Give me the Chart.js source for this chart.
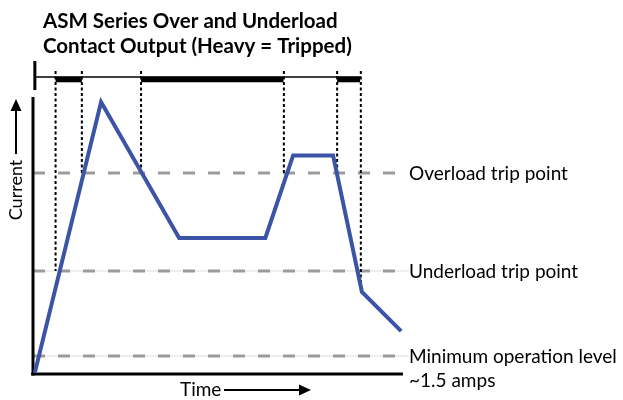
<!DOCTYPE html>
<html>
<head>
<meta charset="utf-8">
<script src="https://cdn.jsdelivr.net/npm/chart.js@4/dist/chart.umd.min.js"></script>
<style>
  html, body { margin: 0; padding: 0; background: #fff; }
</style>
</head>
<body>
<canvas id="chart" width="623" height="400"></canvas>
<script>
// current trace (time and current in arbitrary units, 0-100)
const timeValues = [0.5, 18.4, 39.5, 62.8, 70.3, 81.1, 88.9, 99.5];
const currentValues = [0.5, 98.2, 49.1, 49.1, 78.9, 78.9, 29.6, 15.5];

// trip levels and their labels
const levelNames = ['Overload trip point', 'Underload trip point', 'Minimum operation level'];
const levelValues = [72.6, 37.2, 6.5];
const levelNote = '~1.5 amps';

// contact output strip above the plot (heavy = tripped)
const contactLevel = 107.2;
const contactTick = [102.5, 113.0];
const contactEnd = 88.6;
const trippedLevel = 106.3;
const trippedStart = [6.1, 29.2, 82.2];
const trippedEnd = [13.2, 67.7, 88.4];

// dotted markers from the strip down to the crossings
const markerTimes = [6.1, 13.2, 29.2, 67.8, 82.2, 88.6];
const markerBottoms = [37.2, 72.6, 72.6, 72.6, 72.6, 30.3];
const markerTop = 109.4;

const blue = '#3b54a5';
const grey = '#9b9b9b';

function seg(x1, y1, x2, y2, style) {
    return Object.assign({
        data: [{x: x1, y: y1}, {x: x2, y: y2}],
        pointRadius: 0,
        fill: false,
        clip: false,
        borderCapStyle: 'butt'
    }, style);
}

const datasets = [];

// thin guide lines under the lower two levels
levelValues.slice(1).forEach(v => {
    datasets.push(seg(0, v, 101.6, v, {borderColor: '#dcdcdc', borderWidth: 1, order: 9}));
});
// dashed trip levels
levelValues.forEach(v => {
    datasets.push(seg(0, v, 100, v, {borderColor: grey, borderWidth: 3, borderDash: [12, 13], order: 8}));
});
// dotted markers
markerTimes.forEach((t, i) => {
    datasets.push(seg(t, markerTop, t, markerBottoms[i], {borderColor: '#000', borderWidth: 2, borderDash: [3, 2.5], order: 7}));
});
// contact strip
datasets.push(seg(0.5, contactLevel, contactEnd, contactLevel, {borderColor: '#000', borderWidth: 1.5, order: 6}));
datasets.push(seg(0.5, contactTick[0], 0.5, contactTick[1], {borderColor: '#000', borderWidth: 3, order: 6}));
trippedStart.forEach((s, i) => {
    datasets.push(seg(s, trippedLevel, trippedEnd[i], trippedLevel, {borderColor: '#000', borderWidth: 5.5, order: 6}));
});
// axes
datasets.push(seg(0, -0.5, 0, 100, {borderColor: '#000', borderWidth: 3, order: 5}));
datasets.push(seg(-0.5, 0, 100, 0, {borderColor: '#000', borderWidth: 3, order: 5}));
// current trace
datasets.push({
    data: timeValues.map((t, i) => ({x: t, y: currentValues[i]})),
    borderColor: blue,
    borderWidth: 4,
    pointRadius: 0,
    fill: false,
    clip: false,
    tension: 0,
    borderJoinStyle: 'miter',
    order: 1
});

const font = 'Lato, "Open Sans", sans-serif';

const textPlugin = {
    id: 'texts',
    afterDraw(chart) {
        const ctx = chart.ctx;
        const y = chart.scales.y;
        ctx.save();
        ctx.fillStyle = '#000';
        ctx.strokeStyle = '#000';

        // title
        ctx.font = 'bold 20.5px ' + font;
        ctx.textAlign = 'left';
        ctx.textBaseline = 'alphabetic';
        ctx.fillText('ASM Series Over and Underload', 43, 27.5);
        ctx.fillText('Contact Output (Heavy = Tripped)', 43, 53);

        // level labels
        ctx.font = '19px ' + font;
        ctx.textBaseline = 'middle';
        levelNames.forEach((name, i) => {
            ctx.fillText(name, 409, y.getPixelForValue(levelValues[i]) + 1);
        });
        ctx.fillText(levelNote, 409, y.getPixelForValue(levelValues[2]) + 25);

        // axis names with arrows
        ctx.fillText('Time', 180, 390);
        ctx.lineWidth = 2;
        ctx.beginPath();
        ctx.moveTo(224, 390);
        ctx.lineTo(302, 390);
        ctx.stroke();
        ctx.beginPath();
        ctx.moveTo(311, 390);
        ctx.lineTo(299, 384.5);
        ctx.lineTo(299, 395.5);
        ctx.closePath();
        ctx.fill();

        ctx.save();
        ctx.translate(16, 190);
        ctx.rotate(-Math.PI / 2);
        ctx.textAlign = 'center';
        ctx.font = '18px ' + font;
        ctx.fillText('Current', 0, 0);
        ctx.restore();
        ctx.beginPath();
        ctx.moveTo(16, 154);
        ctx.lineTo(16, 107);
        ctx.stroke();
        ctx.beginPath();
        ctx.moveTo(16, 99);
        ctx.lineTo(10.5, 111);
        ctx.lineTo(21.5, 111);
        ctx.closePath();
        ctx.fill();

        ctx.restore();
    }
};

new Chart(document.getElementById('chart').getContext('2d'), {
    type: 'line',
    data: {datasets: datasets},
    options: {
        responsive: false,
        animation: false,
        layout: {padding: {left: 33, right: 220, top: 97, bottom: 26}},
        scales: {
            x: {type: 'linear', min: 0, max: 100, display: false},
            y: {type: 'linear', min: 0, max: 100, display: false}
        },
        plugins: {
            legend: {display: false},
            tooltip: {enabled: false}
        }
    },
    plugins: [textPlugin]
});
</script>
</body>
</html>
